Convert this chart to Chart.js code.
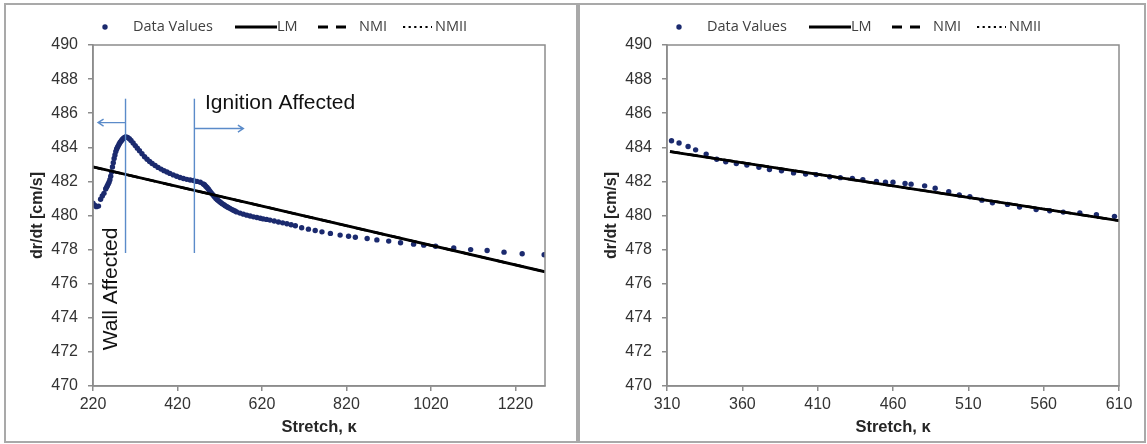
<!DOCTYPE html>
<html lang="en">
<head>
<meta charset="UTF-8">
<title>dr/dt vs Stretch</title>
<script src="https://cdn.jsdelivr.net/npm/chart.js@4.4.1/dist/chart.umd.min.js"></script>
<style>
    body { margin: 0; background: #ffffff; width: 1147px; height: 444px; position: relative; overflow: hidden; }
    canvas { position: absolute; top: 3px; }
    #leftChart { left: 4px; }
    #rightChart { left: 578px; }
</style>
</head>
<body>
<canvas id="leftChart" width="574" height="440"></canvas>
<canvas id="rightChart" width="568" height="440"></canvas>
<script>
// ---- left panel: full stretch range ----
const leftStretch = [
    220, 224, 228, 233, 238, 242, 246, 250, 252, 254, 256, 258, 260, 262, 264, 266,
    268, 270, 272, 274, 276, 278, 280, 282, 284, 286, 288, 290, 292, 294, 296, 298,
    302, 306, 310, 315, 320, 325, 330, 336, 342, 348, 354, 360, 367, 374, 381, 388,
    395, 402, 410, 418, 426, 434, 442, 450, 458, 466, 474, 481, 484, 487, 490, 493,
    496, 499, 502, 505, 508, 511, 514, 517, 520, 523, 526, 530, 533, 537, 540, 544,
    548, 552, 556, 560, 568, 576, 584, 592, 600, 608, 616, 623, 631, 639, 649, 659,
    669, 679, 689, 699, 714, 730, 746, 762, 782, 805, 825, 841, 869, 892, 920, 948,
    979, 1003, 1031, 1074, 1114, 1153, 1193, 1236, 1288];
const leftRate = [
    480.72, 480.6, 480.52, 480.55, 480.95, 481.15, 481.3, 481.55, 481.65, 481.75, 481.85, 481.95, 482.1, 482.3, 482.55, 482.85,
    483.1, 483.35, 483.55, 483.75, 483.9, 484.0, 484.1, 484.2, 484.28, 484.35, 484.42, 484.48, 484.52, 484.56, 484.59, 484.6,
    484.58, 484.5, 484.4, 484.25, 484.1, 483.95, 483.8, 483.62, 483.45, 483.3, 483.17, 483.05, 482.93, 482.82, 482.72, 482.63,
    482.55, 482.47, 482.38, 482.3, 482.23, 482.17, 482.12, 482.08, 482.05, 482.0, 481.95, 481.85, 481.8, 481.72, 481.64, 481.55,
    481.45, 481.35, 481.26, 481.17, 481.08, 481.0, 480.93, 480.87, 480.81, 480.75, 480.69, 480.63, 480.57, 480.52, 480.47, 480.42,
    480.36, 480.31, 480.26, 480.21, 480.14, 480.08, 480.02, 479.97, 479.92, 479.88, 479.84, 479.8, 479.77, 479.73, 479.68, 479.62,
    479.57, 479.52, 479.46, 479.4, 479.28, 479.2, 479.12, 479.04, 478.95, 478.85, 478.78, 478.72, 478.65, 478.57, 478.5, 478.4,
    478.32, 478.26, 478.2, 478.1, 478.0, 477.95, 477.85, 477.76, 477.7];
const leftFitStretch = [220, 1290];
const leftLM = [482.85, 476.7];
const leftNMI = [482.85, 476.7];
const leftNMII = [482.85, 476.7];
const leftTicks = [220, 420, 620, 820, 1020, 1220];
const leftRange = [220, 1290];

// region markers on the left panel (data units)
const wallLine = [297, 477.8, 486.85];      // x, y from, y to
const ignitionLine = [460, 477.8, 486.85];
const wallArrow = [297, 232, 485.45];       // x from, x to, y
const ignitionArrow = [460, 576, 485.1];
const ignitionText = ['Ignition Affected', 485, 486.6];
const wallText = ['Wall Affected', 262, 472.1];

// ---- right panel: fitted range only ----
const rightStretch = [313, 318, 324, 329, 336, 343, 349, 356, 363, 371, 378, 386, 394, 402, 409, 418, 425, 433, 440, 449,
    455, 460, 468, 472, 481, 488, 497, 504, 511, 519, 526, 536, 544, 555, 564, 573, 584, 595, 607];
const rightRate = [484.38, 484.25, 484.05, 483.85, 483.6, 483.3, 483.15, 483.05, 482.96, 482.83, 482.7, 482.62, 482.5, 482.43, 482.4, 482.27, 482.22, 482.17, 482.1, 482.0,
    481.95, 481.95, 481.88, 481.84, 481.74, 481.6, 481.4, 481.2, 481.1, 480.9, 480.75, 480.65, 480.5, 480.35, 480.28, 480.2, 480.15, 480.05, 479.95];
const rightFitStretch = [312, 610];
const rightLM = [483.75, 479.7];
const rightNMI = [483.75, 479.7];
const rightNMII = [483.75, 479.7];
const rightTicks = [310, 360, 410, 460, 510, 560, 610];
const rightRange = [310, 610];

const yMin = 470, yMax = 490, yStep = 2;
const legendNames = ['Data Values', 'LM', 'NMI', 'NMII'];

const navy = '#1b2a6e';
const axisGray = '#8c8c8c';
const tickColor = '#333333';
const blue = '#5b8bc9';
const sans = '"Liberation Sans", Arial, sans-serif';

function pts(xs, ys) {
    return xs.map((x, i) => ({ x: x, y: ys[i] }));
}

// panel frame, plot box and legend
const framePlugin = {
    id: 'frame',
    afterDraw(chart) {
        const ctx = chart.ctx;
        const a = chart.chartArea;
        ctx.save();
        ctx.strokeStyle = '#a9a9a9';
        ctx.lineWidth = 2;
        ctx.strokeRect(1, 1, chart.width - 2, chart.height - 2);
        ctx.strokeStyle = axisGray;
        ctx.lineWidth = 1.5;
        ctx.strokeRect(a.left, a.top, a.right - a.left, a.bottom - a.top);

        // legend
        const L = a.left, y = 24;
        ctx.font = '14.5px "Open Sans"';
        ctx.textBaseline = 'middle';
        ctx.fillStyle = navy;
        ctx.beginPath();
        ctx.arc(L + 12, y, 2.7, 0, Math.PI * 2);
        ctx.fill();
        ctx.fillStyle = '#404040';
        ctx.fillText(legendNames[0], L + 40, y);

        ctx.strokeStyle = '#000';
        ctx.lineWidth = 2.8;
        ctx.beginPath();
        ctx.moveTo(L + 142, y); ctx.lineTo(L + 184, y);
        ctx.stroke();
        ctx.fillText(legendNames[1], L + 184, y);

        ctx.beginPath();
        ctx.moveTo(L + 225, y); ctx.lineTo(L + 235, y);
        ctx.moveTo(L + 243, y); ctx.lineTo(L + 253, y);
        ctx.stroke();
        ctx.fillText(legendNames[2], L + 266, y);

        ctx.lineWidth = 2.2;
        ctx.setLineDash([2.2, 3.4]);
        ctx.beginPath();
        ctx.moveTo(L + 310, y); ctx.lineTo(L + 339, y);
        ctx.stroke();
        ctx.setLineDash([]);
        ctx.fillText(legendNames[3], L + 342, y);
        ctx.restore();
    }
};

// region lines, arrows and labels for the left panel
const regionPlugin = {
    id: 'regions',
    afterDatasetsDraw(chart) {
        const ctx = chart.ctx;
        const xs = chart.scales.x, ys = chart.scales.y;
        ctx.save();
        ctx.strokeStyle = blue;
        ctx.lineWidth = 1.4;
        [wallLine, ignitionLine].forEach(l => {
            const px = xs.getPixelForValue(l[0]);
            ctx.beginPath();
            ctx.moveTo(px, ys.getPixelForValue(l[1]));
            ctx.lineTo(px, ys.getPixelForValue(l[2]));
            ctx.stroke();
        });
        [wallArrow, ignitionArrow].forEach(r => {
            const x0 = xs.getPixelForValue(r[0]);
            const x1 = xs.getPixelForValue(r[1]);
            const py = ys.getPixelForValue(r[2]);
            const dir = Math.sign(x1 - x0);
            ctx.beginPath();
            ctx.moveTo(x0, py); ctx.lineTo(x1, py);
            ctx.moveTo(x1 - dir * 5.5, py - 3.5); ctx.lineTo(x1, py); ctx.lineTo(x1 - dir * 5.5, py + 3.5);
            ctx.stroke();
        });
        ctx.fillStyle = '#111';
        ctx.font = '21px ' + sans;
        ctx.textBaseline = 'middle';
        ctx.fillText(ignitionText[0], xs.getPixelForValue(ignitionText[1]), ys.getPixelForValue(ignitionText[2]));
        ctx.translate(xs.getPixelForValue(wallText[1]), ys.getPixelForValue(wallText[2]));
        ctx.rotate(-Math.PI / 2);
        ctx.fillText(wallText[0], 0, 0);
        ctx.restore();
    }
};

function makeChart(id, stretch, rate, fitX, lm, nmi, nmii, ticks, range, rightPad, extra) {
    return new Chart(document.getElementById(id), {
        type: 'scatter',
        data: {
            datasets: [
                { label: legendNames[1], data: pts(fitX, lm), showLine: true, borderColor: '#000', borderWidth: 2.8, pointRadius: 0, order: 0 },
                { label: legendNames[0], data: pts(stretch, rate), backgroundColor: navy, borderWidth: 0, pointRadius: 2.7, order: 1 },
                { label: legendNames[2], data: pts(fitX, nmi), showLine: true, borderColor: '#000', borderWidth: 2.5, borderDash: [10, 8], pointRadius: 0, order: 2 },
                { label: legendNames[3], data: pts(fitX, nmii), showLine: true, borderColor: '#000', borderWidth: 2, borderDash: [2, 3.6], pointRadius: 0, order: 3 }
            ]
        },
        options: {
            responsive: false,
            animation: false,
            layout: { padding: { top: 42, right: rightPad, left: 0, bottom: 0 } },
            plugins: { legend: { display: false }, tooltip: { enabled: false } },
            scales: {
                x: {
                    type: 'linear',
                    min: range[0],
                    max: range[1],
                    afterBuildTicks: s => { s.ticks = ticks.map(v => ({ value: v })); },
                    afterFit: s => { s.height = 57; },
                    grid: { drawOnChartArea: false, drawTicks: true, tickLength: 5, color: axisGray, lineWidth: 1.5 },
                    border: { color: axisGray, width: 1.5 },
                    ticks: { color: tickColor, padding: 4, maxRotation: 0, callback: v => String(v), font: { family: sans, size: 16 } },
                    title: { display: true, text: 'Stretch, κ', color: '#262626', padding: { top: 0, bottom: 6 },
                        font: { family: sans, size: 16.5, weight: 'bold' } }
                },
                y: {
                    min: yMin,
                    max: yMax,
                    afterFit: s => { s.width = 89; },
                    grid: { drawOnChartArea: false, drawTicks: true, tickLength: 5, color: axisGray, lineWidth: 1.5 },
                    border: { color: axisGray, width: 1.5 },
                    ticks: { stepSize: yStep, color: tickColor, padding: 10, callback: v => String(v), font: { family: sans, size: 16 } },
                    title: { display: true, text: 'dr/dt [cm/s]', color: '#262626', padding: { top: 24, bottom: 0 },
                        font: { family: sans, size: 16, weight: 'bold' } }
                }
            }
        },
        plugins: [framePlugin].concat(extra)
    });
}

makeChart('leftChart', leftStretch, leftRate, leftFitStretch, leftLM, leftNMI, leftNMII, leftTicks, leftRange, 33, [regionPlugin]);
makeChart('rightChart', rightStretch, rightRate, rightFitStretch, rightLM, rightNMI, rightNMII, rightTicks, rightRange, 27, []);
</script>
</body>
</html>
